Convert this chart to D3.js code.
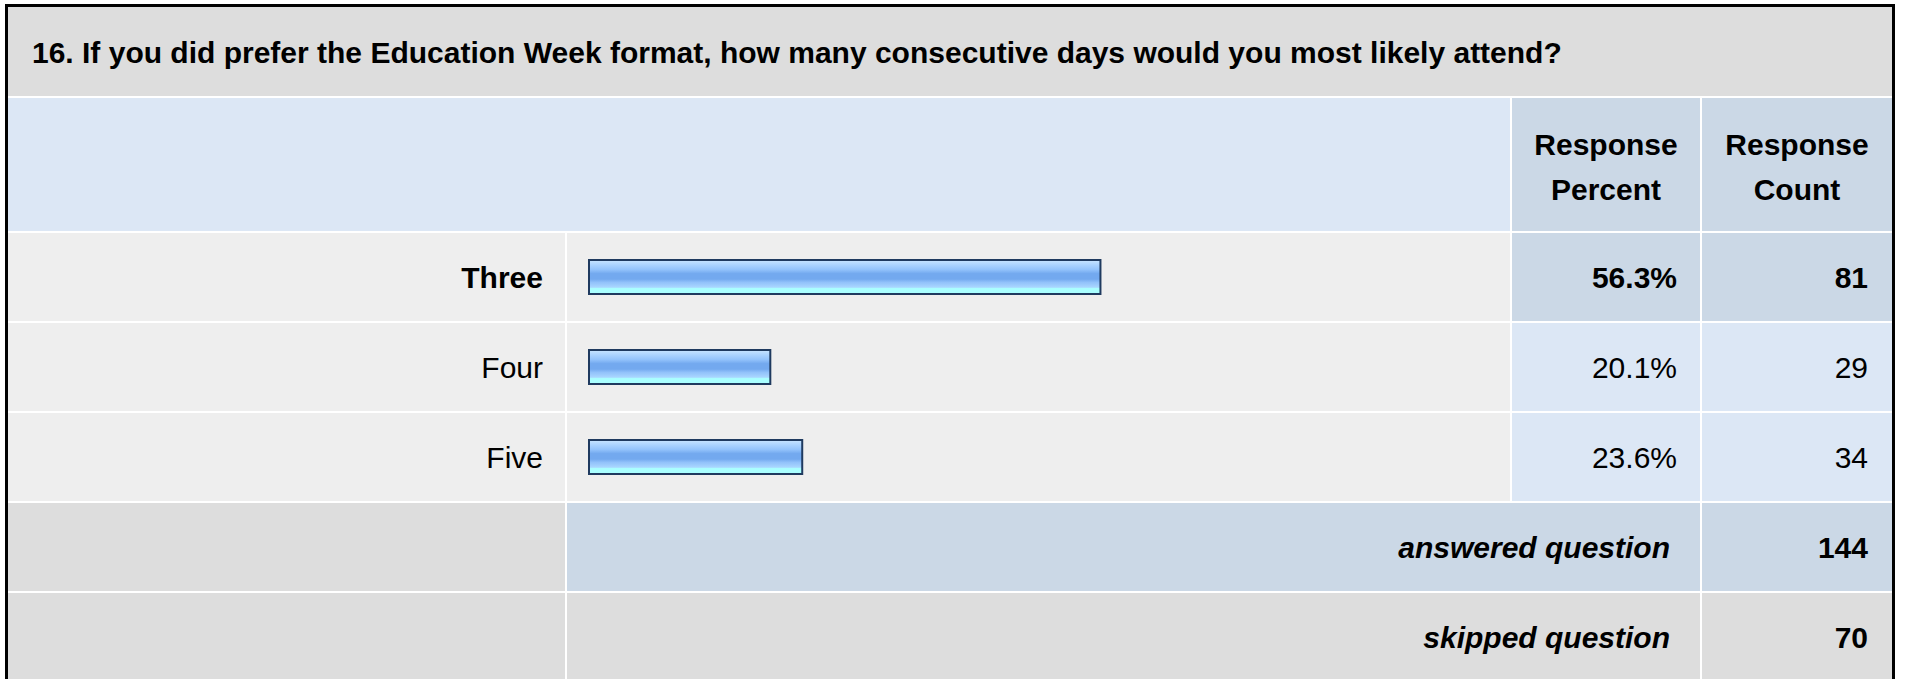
<!DOCTYPE html>
<meta charset='utf-8'>
<style>
  body { margin: 0; background: #fff; }
  text { font-family: "Liberation Sans", Arial, sans-serif; font-size: 30px; fill: #000; }
</style>
<div id="chart"></div>
<script src="https://d3js.org/d3.v7.min.js"></script>
<script>
// survey question data
var title = "16. If you did prefer the Education Week format, how many consecutive days would you most likely attend?";
var answers = ["Three", "Four", "Five"];
var percents = [56.3, 20.1, 23.6];
var counts = [81, 29, 34];
var headerPercent = ["Response", "Percent"];
var headerCount = ["Response", "Count"];
var summaryLabels = ["answered question", "skipped question"];
var summaryCounts = [144, 70];

var width = 1907, height = 679;
var svg = d3.select("#chart").append("svg")
    .attr("width", width)
    .attr("height", height);

// column edges: label | bar | percent | count
var cols = [8, 567, 1512, 1702, 1892];
var gap = 2;

var grey = "#dddddd", light = "#eeeeee", blue = "#dce7f5", blue2 = "#cbd8e6";

// gradient for the bars
var grad = svg.append("defs").append("linearGradient")
    .attr("id", "barGrad").attr("x1", 0).attr("x2", 0).attr("y1", 0).attr("y2", 1);
[["0%", "#c9e5ff"], ["14%", "#acd4ff"], ["28%", "#93c3fb"], ["40%", "#73a9ef"],
 ["56%", "#73a9ef"], ["66%", "#92c2fa"], ["80%", "#a9d6ff"], ["84%", "#aaffff"], ["100%", "#aaffff"]]
  .forEach(function(s) { grad.append("stop").attr("offset", s[0]).attr("stop-color", s[1]); });

// outer frame
svg.append("rect").attr("x", 5).attr("y", 4).attr("width", 1890).attr("height", 700).attr("fill", "#000");
svg.append("rect").attr("x", 8).attr("y", 7).attr("width", 1884).attr("height", 700).attr("fill", "#fff");

function cell(x0, x1, y0, y1, fill) {
  svg.append("rect")
    .attr("x", x0).attr("y", y0)
    .attr("width", x1 - x0).attr("height", y1 - y0)
    .attr("fill", fill);
}
function colEnd(i) { return i === cols.length - 1 ? cols[i] : cols[i] - gap; }

// title row
cell(8, 1892, 7, 96, grey);
svg.append("text").attr("x", 32).attr("y", 63)
  .style("font-weight", "bold").text(title);

// header row
var hy0 = 98, hy1 = 231;
cell(cols[0], colEnd(2), hy0, hy1, blue);
cell(cols[2], colEnd(3), hy0, hy1, blue2);
cell(cols[3], colEnd(4), hy0, hy1, blue2);
[headerPercent, headerCount].forEach(function(lines, i) {
  var cx = (cols[2 + i] + colEnd(3 + i)) / 2;
  lines.forEach(function(t, j) {
    svg.append("text").attr("x", cx).attr("y", 155 + j * 45)
      .attr("text-anchor", "middle").style("font-weight", "bold").text(t);
  });
});

// answer rows
var y = d3.scaleBand().domain(answers).range([233, 503]);
var x = d3.scaleLinear().domain([0, 100]).range([588, 1500]);
var maxP = d3.max(percents);

answers.forEach(function(a, i) {
  var y0 = y(a), y1 = y0 + y.bandwidth() - gap, cy = (y0 + y1) / 2;
  var top = percents[i] === maxP;
  cell(cols[0], colEnd(1), y0, y1, light);
  cell(cols[1], colEnd(2), y0, y1, light);
  cell(cols[2], colEnd(3), y0, y1, top ? blue2 : blue);
  cell(cols[3], colEnd(4), y0, y1, top ? blue2 : blue);
  var w = top ? "bold" : "normal";
  svg.append("text").attr("x", 543).attr("y", cy + 10.7)
    .attr("text-anchor", "end").style("font-weight", w).text(a);
  svg.append("rect")
    .attr("x", x(0) + 1).attr("y", cy - 17)
    .attr("width", x(percents[i]) - x(0) - 2).attr("height", 34)
    .attr("fill", "url(#barGrad)")
    .attr("stroke", "#1f3a5f").attr("stroke-width", 2);
  svg.append("text").attr("x", 1677).attr("y", cy + 10.7)
    .attr("text-anchor", "end").style("font-weight", w).text(percents[i].toFixed(1) + "%");
  svg.append("text").attr("x", 1868).attr("y", cy + 10.7)
    .attr("text-anchor", "end").style("font-weight", w).text(counts[i]);
});

// answered / skipped rows
var sy = [503, 593];
summaryLabels.forEach(function(lbl, i) {
  var y0 = sy[i], y1 = y0 + 88, cy = (y0 + y1) / 2;
  cell(cols[0], colEnd(1), y0, y1, grey);
  cell(cols[1], colEnd(3), y0, y1, i === 0 ? blue2 : grey);
  cell(cols[3], colEnd(4), y0, y1, i === 0 ? blue2 : grey);
  svg.append("text").attr("x", 1670).attr("y", cy + 10.7)
    .attr("text-anchor", "end").style("font-weight", "bold").style("font-style", "italic").text(lbl);
  svg.append("text").attr("x", 1868).attr("y", cy + 10.7)
    .attr("text-anchor", "end").style("font-weight", "bold").text(summaryCounts[i]);
});
</script>
